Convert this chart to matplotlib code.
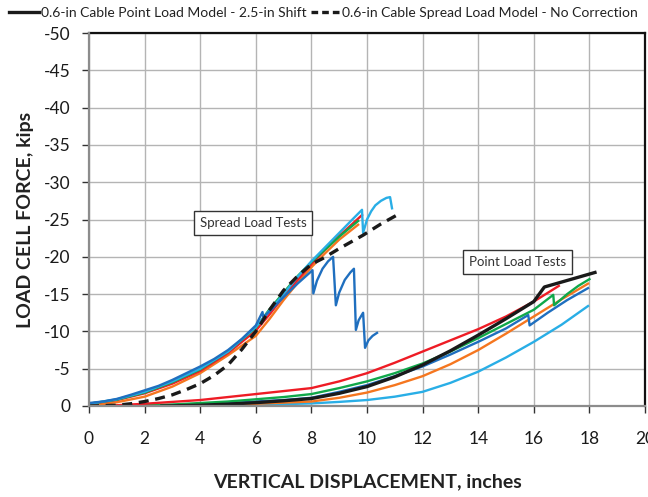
import matplotlib
matplotlib.use("Agg")
import matplotlib.pyplot as plt
from matplotlib.lines import Line2D

plt.rcParams['font.family'] = ['Lato', 'DejaVu Sans']

# ---- Spread load tests (displacement in inches, force in kips) ----
spread_orange_x = [0, 1, 2, 3, 4, 5, 6, 6.5, 7, 7.5, 8, 8.5, 9, 9.68]
spread_orange_y = [-0.1, -0.5, -1.25, -2.6, -4.4, -6.8, -9.4, -11.7, -14.2, -16.5, -18.6,
                   -20.5, -22.3, -24.3]

spread_red_x = [0, 1, 2, 3, 4, 5, 6, 6.5, 7, 7.5, 8, 8.5, 9, 9.5, 9.82]
spread_red_y = [-0.3, -0.8, -1.7, -3.0, -4.7, -7.1, -10.1, -12.3, -14.7, -16.9, -19.0,
                -21.0, -22.8, -24.5, -25.6]

spread_green_x = [0, 1, 2, 3, 4, 5, 6, 6.5, 7, 7.5, 8, 8.5, 9, 9.68]
spread_green_y = [-0.3, -0.85, -1.8, -3.2, -4.9, -7.3, -10.5, -13.0, -15.2, -17.4, -19.3,
                  -21.0, -22.7, -24.8]

spread_ltblue_x = [0, 1, 2, 3, 4, 5, 6, 6.5, 7, 7.5, 8, 8.5, 9, 9.5, 9.82,
                   9.86, 10.0, 10.15, 10.3, 10.5, 10.7, 10.83, 10.9]
spread_ltblue_y = [-0.3, -0.9, -1.9, -3.3, -5.0, -7.3, -10.6, -12.8, -15.0, -17.3, -19.4,
                   -21.3, -23.2, -25.1, -26.3,
                   -23.2, -25.0, -26.1, -26.9, -27.5, -27.9, -28.0, -26.5]

spread_blue_x = [0, 0.5, 1, 1.5, 2, 2.5, 3, 3.5, 4, 4.5, 5, 5.5, 6, 6.24, 6.27, 6.5, 7, 7.5,
                 8.04, 8.07, 8.2, 8.4, 8.6, 8.78, 8.88, 9.0, 9.2, 9.4, 9.53, 9.6, 9.7, 9.86,
                 9.93, 10.05, 10.2, 10.36]
spread_blue_y = [-0.4, -0.6, -0.95, -1.5, -2.1, -2.7, -3.5, -4.4, -5.3, -6.3, -7.5, -9.0,
                 -10.8, -12.6, -11.9, -12.7, -14.6, -16.4, -18.2, -15.1, -16.8, -18.4, -19.4,
                 -20.0, -13.5, -15.2, -16.9, -17.9, -18.4, -10.2, -11.5, -12.5, -7.8, -8.8,
                 -9.4, -9.8]

spread_model_x = [0, 0.5, 1, 1.5, 2, 2.5, 3, 3.5, 4, 4.5, 5, 5.5, 6, 6.5, 7, 7.5, 8, 8.42,
                  9, 9.86, 10.5, 11.08]
spread_model_y = [0, -0.05, -0.1, -0.3, -0.6, -1.0, -1.5, -2.2, -3.0, -4.1, -5.5, -7.6,
                  -10.0, -12.9, -15.5, -17.4, -19.0, -19.8, -21.1, -22.9, -24.4, -25.6]

# ---- Point load tests ----
point_ltblue_x = [0, 4, 6, 8, 9, 10, 11, 12, 13, 14, 15, 16, 17, 17.95]
point_ltblue_y = [0, -0.05, -0.15, -0.35, -0.55, -0.8, -1.25, -1.9, -3.1, -4.6, -6.5, -8.6,
                  -10.9, -13.4]

point_orange_x = [0, 4, 6, 7, 8, 9, 10, 11, 12, 13, 14, 15, 16, 17, 17.95]
point_orange_y = [0, -0.1, -0.3, -0.45, -0.6, -1.1, -1.8, -2.8, -4.0, -5.6, -7.5, -9.7,
                  -12.0, -14.3, -16.4]

point_blue_x = [0, 2, 4, 5, 6, 7, 8, 9, 10, 11, 12, 13, 14, 15, 15.8, 15.85, 16.5, 17.2, 17.95]
point_blue_y = [0, -0.05, -0.2, -0.35, -0.6, -0.8, -1.1, -1.9, -2.8, -4.0, -5.3, -6.9, -8.6,
                -10.4, -12.2, -10.8, -12.5, -14.2, -15.8]

point_green_x = [0, 2, 3, 4, 5, 6, 7, 8, 9, 10, 11, 12, 13, 14, 15, 16, 16.7, 16.73,
                 17.2, 17.6, 18.0]
point_green_y = [0, -0.1, -0.2, -0.4, -0.6, -0.9, -1.2, -1.6, -2.4, -3.3, -4.4, -5.7, -7.3,
                 -9.1, -11.0, -12.9, -14.9, -13.5, -15.0, -16.1, -17.0]

point_red_x = [0, 1, 2, 3, 4, 5, 6, 7, 8, 9, 10, 11, 12, 13, 14, 15, 16, 16.9]
point_red_y = [0, -0.1, -0.3, -0.55, -0.8, -1.2, -1.6, -2.0, -2.4, -3.3, -4.4, -5.8, -7.3,
               -8.8, -10.3, -12.0, -14.0, -16.1]

point_model_x = [2.62, 3, 4, 5, 6, 7, 8, 9, 10, 11, 12, 13, 14, 15, 16, 16.38, 18.2]
point_model_y = [0, -0.02, -0.1, -0.25, -0.45, -0.7, -1.0, -1.7, -2.6, -3.9, -5.5, -7.4,
                 -9.5, -11.7, -14.0, -15.95, -17.9]

x_ticks = list(range(0, 21, 2))
y_ticks = list(range(0, -51, -5))

c_blue = "#1f6fbf"
c_ltblue = "#29aee6"
c_green = "#10a84a"
c_red = "#ee1c25"
c_orange = "#f5761f"

fig = plt.figure(figsize=(6.48, 4.97), dpi=100)
ax = fig.add_axes([89 / 648, 1 - 406 / 497, 556 / 648, 373 / 497])

lw = 1.7
ax.plot(point_ltblue_x, point_ltblue_y, color=c_ltblue, lw=lw, zorder=3)
ax.plot(point_orange_x, point_orange_y, color=c_orange, lw=lw, zorder=3)
ax.plot(point_blue_x, point_blue_y, color=c_blue, lw=lw, zorder=3)
ax.plot(point_green_x, point_green_y, color=c_green, lw=lw, zorder=3)
ax.plot(point_red_x, point_red_y, color=c_red, lw=lw, zorder=3)
ax.plot(point_model_x, point_model_y, color="#1a1a1a", lw=2.4, zorder=4)

ax.plot(spread_orange_x, spread_orange_y, color=c_orange, lw=lw, zorder=3)
ax.plot(spread_red_x, spread_red_y, color=c_red, lw=lw, zorder=3)
ax.plot(spread_green_x, spread_green_y, color=c_green, lw=lw, zorder=3)
ax.plot(spread_ltblue_x, spread_ltblue_y, color=c_ltblue, lw=lw, zorder=3)
ax.plot(spread_blue_x, spread_blue_y, color=c_blue, lw=lw, zorder=3)
ax.plot(spread_model_x, spread_model_y, color="#1a1a1a", lw=2.4, ls=(0, (3, 2)), zorder=4)

ax.set_xlim(0, 20)
ax.set_ylim(0, -50)
ax.set_xticks(x_ticks)
ax.set_yticks(y_ticks)
ax.set_xticklabels([str(t) for t in x_ticks])
ax.set_yticklabels([str(t) for t in y_ticks])
ax.grid(True, color="#b4b4b4", lw=1.0, zorder=0)
ax.set_axisbelow(True)
ax.tick_params(axis="both", labelsize=12.5, colors="#333333", length=5, width=1,
               direction="out", labelcolor="#1a1a1a")
ax.tick_params(axis="x", pad=13)
ax.tick_params(axis="y", pad=8.5)
for s in ("top", "right"):
    ax.spines[s].set_color("#111111")
    ax.spines[s].set_linewidth(1.6)
for s in ("left", "bottom"):
    ax.spines[s].set_color("#8c8c8c")
    ax.spines[s].set_linewidth(1.6)
    ax.spines[s].set_zorder(5)

ax.set_xlabel("VERTICAL DISPLACEMENT, inches", fontsize=14, fontweight="bold",
              color="#222222", labelpad=19)
ax.set_ylabel("LOAD CELL FORCE, kips", fontsize=14, fontweight="bold",
              color="#222222", labelpad=7)

box = dict(boxstyle="square,pad=0.45", fc="white", ec="#333333", lw=1.0)
ax.text(5.9, -24.5, "Spread Load Tests", fontsize=9.5, ha="center", va="center",
        bbox=box, zorder=6, color="#333333")
ax.text(15.43, -19.3, "Point Load Tests", fontsize=9.5, ha="center", va="center",
        bbox=box, zorder=6, color="#333333")

handles = [Line2D([], [], color="#1a1a1a", lw=2.4),
           Line2D([], [], color="#1a1a1a", lw=2.4, ls=(0, (2, 1.2)))]
labels = ["0.6-in Cable Point Load Model - 2.5-in Shift",
          "0.6-in Cable Spread Load Model - No Correction"]
fig.legend(handles, labels, loc="upper left", bbox_to_anchor=(0.008, 0.994), ncol=2,
           frameon=False, fontsize=10, handlelength=2.1, handletextpad=0.15,
           columnspacing=0.35, borderpad=0.3, borderaxespad=0, labelcolor="#222222")

fig.savefig("out.png", dpi=100)
